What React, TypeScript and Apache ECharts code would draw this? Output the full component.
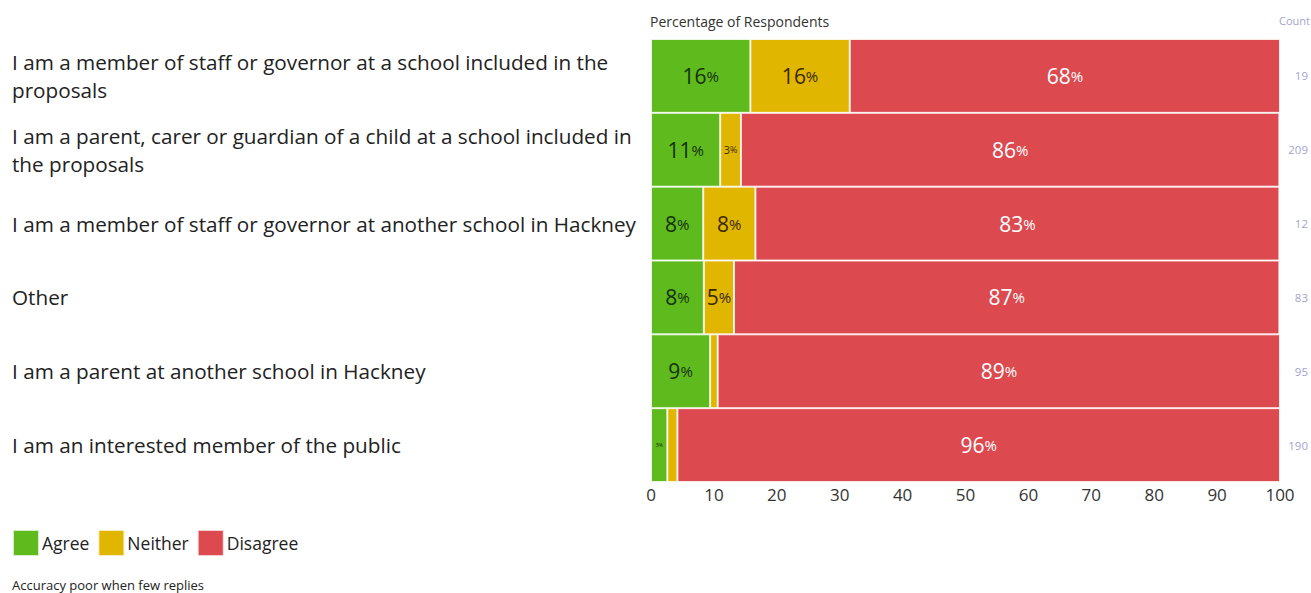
import React, { useEffect, useRef } from "react";
import * as echarts from "echarts";

const categories = [
  "I am a member of staff or governor at a school included in the proposals",
  "I am a parent, carer or guardian of a child at a school included in the proposals",
  "I am a member of staff or governor at another school in Hackney",
  "Other",
  "I am a parent at another school in Hackney",
  "I am an interested member of the public",
];
const agree = [15.8, 11.0, 8.3, 8.4, 9.4, 2.6];
const neither = [15.8, 3.3, 8.3, 4.8, 1.2, 1.6];
const disagree = [68.4, 85.6, 83.3, 86.7, 89.4, 95.8];
const counts = ["19", "209", "12", "83", "95", "190"];
const xTicks = [0, 10, 20, 30, 40, 50, 60, 70, 80, 90, 100];

const FONT = "Open Sans";

function labelFor(v: number, color: string) {
  let n = 21, p = 15;
  if (v < 2) return { show: false };
  if (v < 3) { n = 6; p = 5; }
  else if (v < 4.5) { n = 11; p = 9; }
  return {
    show: true,
    position: "inside",
    formatter: () => `{n|${Math.round(v)}}{p|%}`,
    rich: {
      n: { fontSize: n, color, fontFamily: FONT },
      p: { fontSize: p, color, fontFamily: FONT },
    },
  };
}

function makeData(vals: number[], color: string) {
  return vals.map((v) => ({ value: v, label: labelFor(v, color) }));
}

export default function App() {
  const ref = useRef<HTMLDivElement>(null);
  useEffect(() => {
    if (!ref.current) return;
    const chart = echarts.init(ref.current, null, { renderer: "svg" });
    const border = { borderColor: "rgba(255,255,255,0.75)", borderWidth: 1 };
    chart.setOption({
      animation: false,
      textStyle: { fontFamily: FONT },
      title: [
        {
          text: "Percentage of Respondents",
          left: 650,
          top: 14,
          padding: 0,
          textStyle: { fontSize: 14, fontWeight: "normal", color: "#333", fontFamily: FONT },
        },
        {
          text: "Count",
          right: 1,
          top: 15,
          padding: 0,
          textStyle: { fontSize: 11, fontWeight: "normal", color: "#a3a3d0", fontFamily: FONT },
        },
        {
          text: "Accuracy poor when few replies",
          left: 12,
          top: 578,
          padding: 0,
          textStyle: { fontSize: 13, fontWeight: "normal", color: "#222", fontFamily: FONT },
        },
      ],
      legend: {
        left: 12,
        top: 529,
        padding: 0,
        itemWidth: 26,
        itemHeight: 26,
        itemGap: 8,
        icon: "rect",
        textStyle: { fontSize: 17.5, color: "#222", fontFamily: FONT, padding: [0, 0, 0, -2] },
        data: ["Agree", "Neither", "Disagree"],
      },
      grid: { left: 651, right: 30, top: 39, bottom: 111 },
      xAxis: {
        type: "value",
        min: 0,
        max: 100,
        interval: 10,
        axisLine: { show: false },
        axisTick: { show: false },
        splitLine: { show: false },
        axisLabel: {
          fontSize: 17,
          color: "#333",
          margin: 4,
          fontFamily: FONT,
          formatter: (v: number) => (xTicks.includes(v) ? String(v) : ""),
        },
      },
      yAxis: [
        {
          type: "category",
          data: categories,
          inverse: true,
          axisLine: { show: false },
          axisTick: { show: false },
          axisLabel: {
            align: "left",
            margin: 639,
            width: 632,
            overflow: "break",
            fontSize: 20.7,
            lineHeight: 28,
            color: "#222",
            fontFamily: FONT,
          },
        },
        {
          type: "category",
          data: counts,
          inverse: true,
          position: "right",
          axisLine: { show: false },
          axisTick: { show: false },
          axisLabel: {
            align: "right",
            margin: 28,
            fontSize: 11.5,
            color: "#a3a3d0",
            fontFamily: FONT,
          },
        },
      ],
      series: [
        {
          name: "Agree",
          type: "bar",
          stack: "all",
          barCategoryGap: "0%",
          itemStyle: { color: "#5fba1d", ...border },
          data: makeData(agree, "#16300a"),
        },
        {
          name: "Neither",
          type: "bar",
          stack: "all",
          barCategoryGap: "0%",
          itemStyle: { color: "#e1b600", ...border },
          data: makeData(neither, "#3a2800"),
        },
        {
          name: "Disagree",
          type: "bar",
          stack: "all",
          barCategoryGap: "0%",
          itemStyle: { color: "#dc4a50", ...border },
          data: makeData(disagree, "#ffffff"),
        },
      ],
    });
    return () => chart.dispose();
  }, []);
  return (
    <div
      ref={ref}
      style={{ position: "fixed", left: 0, top: 0, width: 1311, height: 593, background: "#fff" }}
    />
  );
}
